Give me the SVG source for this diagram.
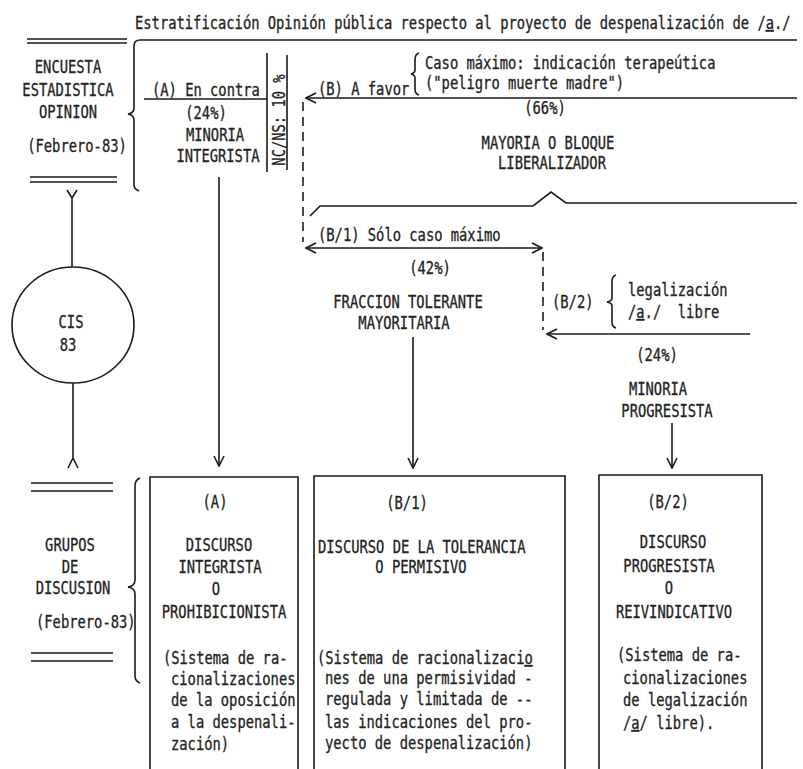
<svg xmlns="http://www.w3.org/2000/svg" width="803" height="769" viewBox="0 0 803 769">
<defs>
<style>
text{font-family:"DejaVu Sans Mono","Liberation Mono",monospace;font-size:13.8px;fill:#222;stroke:#222;stroke-width:0.25;white-space:pre;transform-box:fill-box;transform-origin:50% 80%;transform:scaleY(1.22)}
.m{text-anchor:middle}
.ln{fill:none;stroke:#1a1a1a;stroke-width:1.6}
.ds{fill:none;stroke:#1a1a1a;stroke-width:1.6;stroke-dasharray:9 6}
.u{text-decoration:underline}
</style>
<marker id="ah" viewBox="0 0 12 12" refX="11" refY="6" markerWidth="12" markerHeight="12" orient="auto-start-reverse" markerUnits="userSpaceOnUse">
<path d="M1,1 L11,6 L1,11" fill="none" stroke="#1a1a1a" stroke-width="1.6"/>
</marker>
</defs>
<rect width="803" height="769" fill="#fff"/>

<g id="title">
<text x="135" y="29">Estratificación Opinión pública respecto al proyecto de despenalización de /<tspan class="u">a</tspan>./</text>
</g>

<g id="encuesta">
<path class="ln" d="M27,39 L127,39 M27,43 L127,43 M30,177 L117,177 M30,182 L117,182"/>
<text class="m" x="68" y="73">ENCUESTA</text>
<text class="m" x="68" y="96">ESTADISTICA</text>
<text class="m" x="68" y="118">OPINION</text>
<text class="m" x="77" y="152">(Febrero-83)</text>
<path class="ln" d="M797,40 L140,40 Q134,40 134,46 L134,108 Q134,113 128,114 Q134,115 134,120 L134,185 Q134,189 139,191"/>
</g>

<g id="cis">
<ellipse class="ln" cx="73" cy="325" rx="61" ry="58"/>
<text class="m" x="71" y="328">CIS</text>
<text class="m" x="68" y="351">83</text>
</g>

<g id="grupos">
<path class="ln" d="M31,483 L113,483 M31,491 L113,491 M31,653 L113,653 M31,661 L113,661"/>
<text class="m" x="70" y="551">GRUPOS</text>
<text class="m" x="70" y="573">DE</text>
<text class="m" x="73" y="594">DISCUSION</text>
<text x="36" y="628">(Febrero-83)</text>
<path class="ln" d="M140,478 Q135,480 135,486 L135,580 Q135,586 128,587 Q135,588 135,594 L135,676 Q135,681 140,683"/>
</g>

<g id="minoria-integrista">
<text x="152" y="96">(A) En contra</text>
<text class="m" x="206" y="119">(24%)</text>
<text class="m" x="215" y="141">MINORIA</text>
<text class="m" x="218" y="162">INTEGRISTA</text>
</g>

<g id="ncns">
<path class="ln" d="M267,53 L267,172 M287,55 L287,170"/>
<g transform="translate(285,120) rotate(-90)"><text class="m" x="0" y="0">NC/NS: 10 %</text></g>
</g>

<g id="mayoria">
<text x="318" y="95">(B) A favor</text>
<path class="ln" d="M419,53 Q415,54 415,60 L415,70 Q415,73 411,74 Q415,75 415,78 L415,89 Q415,94 419,95"/>
<text x="425" y="69">Caso máximo: indicación terapeútica</text>
<text x="425" y="89">("peligro muerte madre")</text>
<text class="m" x="545" y="114">(66%)</text>
<text class="m" x="548" y="149">MAYORIA O BLOQUE</text>
<text class="m" x="552" y="169">LIBERALIZADOR</text>
<path class="ln" d="M310,216 L320,206 L533,206 L551,192 L566,203 L797,203"/>
</g>

<g id="fraccion-tolerante">
<text x="318" y="241">(B/1) Sólo caso máximo</text>
<text class="m" x="430" y="274">(42%)</text>
<text class="m" x="408" y="308">FRACCION TOLERANTE</text>
<text class="m" x="404" y="329">MAYORITARIA</text>
</g>

<g id="minoria-progresista">
<text x="552" y="308">(B/2)</text>
<path class="ln" d="M616,275 Q612,276 612,282 L612,298 Q612,301 607,302 Q612,303 612,306 L612,322 Q612,327 616,328"/>
<text x="628" y="296">legalización</text>
<text x="628" y="318">/<tspan class="u">a</tspan>./  libre</text>
<text class="m" x="657" y="361">(24%)</text>
<text class="m" x="658" y="395">MINORIA</text>
<text class="m" x="667" y="417">PROGRESISTA</text>
</g>

<g id="box-a">
<path class="ln" d="M150,769 L150,477 L298,477 L298,769"/>
<text class="m" x="215" y="508">(A)</text>
<text class="m" x="219" y="551">DISCURSO</text>
<text class="m" x="220" y="573">INTEGRISTA</text>
<text class="m" x="216" y="595">O</text>
<text class="m" x="224" y="618">PROHIBICIONISTA</text>
<text x="163" y="664">(Sistema de ra-</text>
<text x="171" y="685">cionalizaciones</text>
<text x="171" y="706">de la oposición</text>
<text x="171" y="728">a la despenali-</text>
<text x="171" y="750">zación)</text>
</g>

<g id="box-b1">
<path class="ln" d="M314,769 L314,476 L565,476 L565,769"/>
<text class="m" x="407" y="509">(B/1)</text>
<text x="318" y="553">DISCURSO DE LA TOLERANCIA</text>
<text class="m" x="421" y="573">O PERMISIVO</text>
<text x="317" y="664">(Sistema de racionalizaci<tspan class="u">o</tspan></text>
<text x="325" y="684">nes de una permisividad -</text>
<text x="325" y="705">regulada y limitada de --</text>
<text x="325" y="728">las indicaciones del pro-</text>
<text x="325" y="749">yecto de despenalización)</text>
</g>

<g id="box-b2">
<path class="ln" d="M599,769 L599,475 L762,475 L762,769"/>
<text class="m" x="668" y="508">(B/2)</text>
<text class="m" x="673" y="548">DISCURSO</text>
<text class="m" x="669" y="572">PROGRESISTA</text>
<text class="m" x="669" y="594">O</text>
<text class="m" x="674" y="618">REIVINDICATIVO</text>
<text x="617" y="661">(Sistema de ra-</text>
<text x="623" y="684">cionalizaciones</text>
<text x="623" y="706">de legalización</text>
<text x="623" y="729">/<tspan class="u">a</tspan>/ libre).</text>
</g>

<g id="connectors">
<path class="ln" d="M144,99 L267,99"/>
<path class="ln" d="M797,98 L306,98" marker-end="url(#ah)"/>
<path class="ds" d="M303,102 L303,242"/>
<path class="ln" d="M306,248 L542,248" marker-start="url(#ah)" marker-end="url(#ah)"/>
<path class="ds" d="M543,252 L543,330"/>
<path class="ln" d="M750,334 L547,334" marker-end="url(#ah)"/>
<path class="ln" d="M219,177 L219,466" marker-end="url(#ah)"/>
<path class="ln" d="M413,337 L413,468" marker-end="url(#ah)"/>
<path class="ln" d="M672,423 L672,468" marker-end="url(#ah)"/>
<path class="ln" d="M72,267 L72,198 M67,190 L72,198 L77,190"/>
<path class="ln" d="M73,383 L73,458 M68,468 L73,458 L78,468"/>
</g>
</svg>
